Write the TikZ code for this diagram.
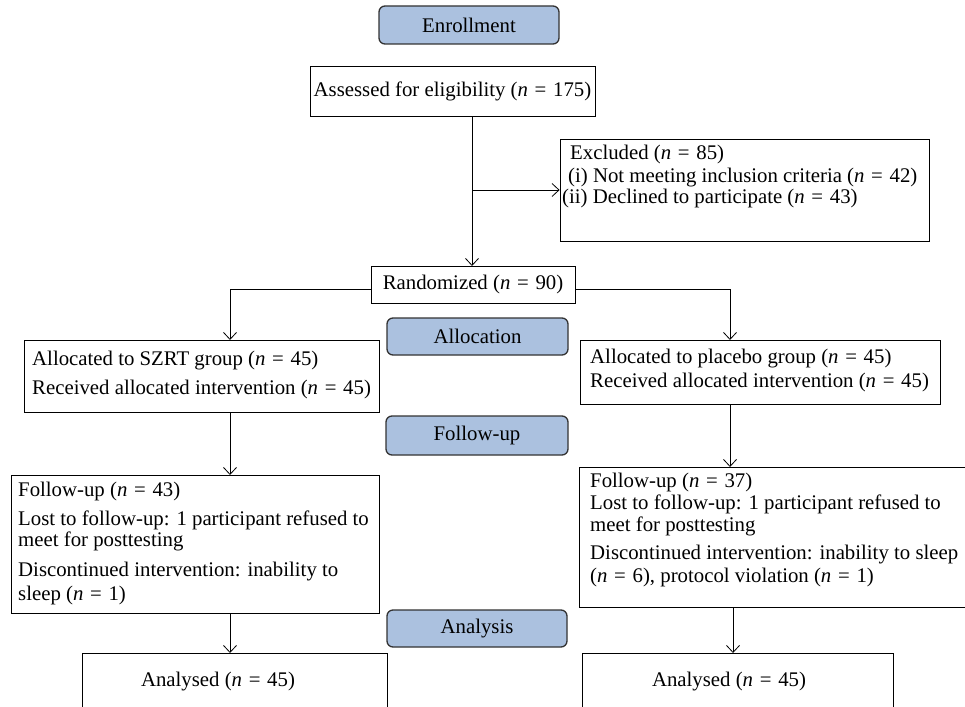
\documentclass[tikz,border=0pt]{standalone}
\usepackage{fontspec}
\setmainfont{Liberation Serif}
\usetikzlibrary{arrows.meta}
\definecolor{labfill}{HTML}{ABC1DF}
\definecolor{labdraw}{HTML}{333333}
\newcommand\myn{\textit{n}\hspace{1.5pt}}
\newcommand\myeq{=\hspace{1.5pt}}
\begin{document}
\begin{tikzpicture}[x=1pt,y=-1pt,
  every node/.style={font=\fontsize{20.8}{22}\selectfont},
  box/.style={draw=black, line width=0.8pt, inner sep=0pt},
  lab/.style={draw=labdraw, line width=1.3pt, fill=labfill, rounded corners=6pt, inner sep=0pt},
  txt/.style={anchor=base west, inner sep=0pt},
  ctxt/.style={anchor=base, inner sep=0pt},
  arr/.style={draw=black, line width=0.8pt, -{Straight Barb[length=7pt,width=13pt,line width=0.8pt]}},
  conn/.style={draw=black, line width=0.8pt}]
\useasboundingbox (0,0) rectangle (965,706);
\clip (0,0) rectangle (965,706);

% phase labels
\node[lab, minimum width=180pt, minimum height=38pt] (enroll) at (469,25) {Enrollment};
\node[lab, minimum width=181pt, minimum height=37pt] (alloclab) at (477.5,336.5) {Allocation};
\node[lab, minimum width=182pt, minimum height=39pt] (fulab) at (477,435.5) {Follow-up};
\node[lab, minimum width=180pt, minimum height=37pt] (anlab) at (477,628.5) {Analysis};

% boxes
\node[box, minimum width=285pt, minimum height=50pt] (assess) at (452.5,91) {Assessed for eligibility (\myn{} \myeq{} 175)};
\node[box, minimum width=369pt, minimum height=102pt] (excl) at (744.5,190) {};
\node[box, minimum width=204pt, minimum height=37pt] (rand) at (473,284.5) {Randomized (\myn{} \myeq{} 90)};
\node[box, minimum width=355pt, minimum height=72pt] (allocL) at (201.5,376) {};
\node[box, minimum width=360pt, minimum height=64pt] (allocR) at (760,372) {};
\node[box, minimum width=368pt, minimum height=138pt] (fuL) at (195,544) {};
\node[box, minimum width=396pt, minimum height=140pt] (fuR) at (777,537) {};
\node[box, minimum width=305pt, minimum height=67pt] (anL) at (234.5,686.5) {};
\node[box, minimum width=311pt, minimum height=67pt] (anR) at (737.5,686.5) {};

% texts
\node[txt] (ex1) at (570,159) {Excluded (\myn{} \myeq{} 85)};
\node[txt] (ex2) at (568,182) {(i) Not meeting inclusion criteria (\myn{} \myeq{} 42)};
\node[txt] (ex3) at (562,203) {(ii) Declined to participate (\myn{} \myeq{} 43)};

\node[txt] (al1) at (32,365) {Allocated to SZRT group (\myn{} \myeq{} 45)};
\node[txt] (al2) at (32,394) {Received allocated intervention (\myn{} \myeq{} 45)};
\node[txt] (ar1) at (590,363) {Allocated to placebo group (\myn{} \myeq{} 45)};
\node[txt] (ar2) at (590,387) {Received allocated intervention (\myn{} \myeq{} 45)};

\node[txt] (fl1) at (18,496) {Follow-up (\myn{} \myeq{} 43)};
\node[txt] (fl2) at (18,525) {Lost to follow-up: 1 participant refused to};
\node[txt] (fl3) at (18,546) {meet for posttesting};
\node[txt] (fl4) at (18,576) {Discontinued intervention: inability to};
\node[txt] (fl5) at (18,600) {sleep (\myn{} \myeq{} 1)};

\node[txt] (fr1) at (590,487) {Follow-up (\myn{} \myeq{} 37)};
\node[txt] (fr2) at (590,509) {Lost to follow-up: 1 participant refused to};
\node[txt] (fr3) at (590,531) {meet for posttesting};
\node[txt] (fr4) at (590,559) {Discontinued intervention: inability to sleep};
\node[txt] (fr5) at (590,582) {(\myn{} \myeq{} 6), protocol violation (\myn{} \myeq{} 1)};

\node[ctxt] (anlt) at (218,686) {Analysed (\myn{} \myeq{} 45)};
\node[ctxt] (anrt) at (729,686) {Analysed (\myn{} \myeq{} 45)};

% connector points
\coordinate (br) at (472,190);
\coordinate (randin) at (472,266);
\coordinate (lin) at (230,340);
\coordinate (rin) at (730,340);
\coordinate (lfu) at (230,475);
\coordinate (rfu) at (730,467);
\coordinate (lan) at (230,653);
\coordinate (ran) at (733,653);

% connectors
\draw[arr] (assess.south -| randin) -- (randin);
\draw[arr] (br) -- (excl.west);
\draw[arr] ([yshift=-4.5pt]rand.west) -| (lin);
\draw[arr] ([yshift=-4.5pt]rand.east) -| (rin);
\draw[arr] (allocL.south -| lfu) -- (lfu);
\draw[arr] (allocR.south -| rfu) -- (rfu);
\draw[arr] (fuL.south -| lan) -- (lan);
\draw[arr] (fuR.south -| ran) -- (ran);
\end{tikzpicture}
\end{document}
